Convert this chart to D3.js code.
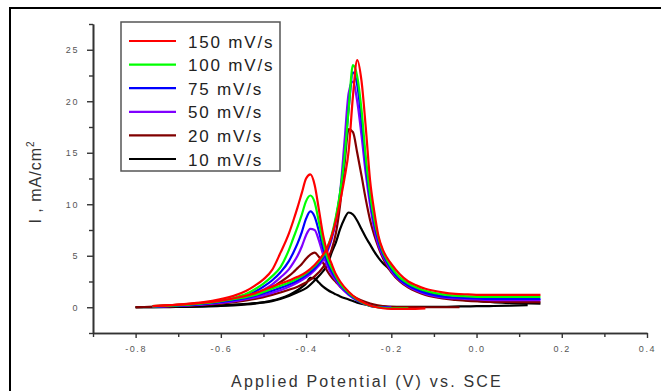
<!DOCTYPE html>
<html>
<head>
<meta charset="utf-8">
<script src="https://cdn.jsdelivr.net/npm/d3@7"></script>
<style>
  body { margin: 0; background: #fff; }
  text { font-family: "Liberation Sans", Arial, sans-serif; }
</style>
</head>
<body>
<div id="graph"></div>
<script>
// scan rate labels + colours (legend order)
var seriesNames = ["150 mV/s", "100 mV/s", "75 mV/s", "50 mV/s", "20 mV/s", "10 mV/s"];
var seriesColors = ["#ff0000", "#00ff00", "#0000ff", "#8000ff", "#800000", "#000000"];

// potential grid (V vs SCE) for the low branch (peak near -0.39 V)
var xLow = [-0.80, -0.76, -0.72, -0.68, -0.64, -0.60, -0.57, -0.54, -0.52, -0.50,
  -0.48, -0.46, -0.44, -0.43, -0.42, -0.41, -0.40, -0.39, -0.38, -0.37,
  -0.36, -0.35, -0.34, -0.33, -0.32, -0.30, -0.28, -0.26, -0.24, -0.22,
  -0.20, -0.16, -0.12, -0.08, -0.04, 0.00, 0.04, 0.08, 0.12];

// current density (mA/cm2), low branch
var low150 = [null, 0.1, 0.2, 0.32, 0.5, 0.8, 1.1, 1.6, 2.1, 2.7, 3.6, 5.3, 7.2, 8.4, 9.7, 11.1, 12.5, 12.9, 11.9, 9.5,
  7.0, 5.3, 4.2, 3.2, 2.5, 1.5, 0.8, 0.35, 0.05, -0.1, -0.15, -0.15, -0.1, null, null, null, null, null, null];
var low100 = [null, 0.08, 0.16, 0.26, 0.42, 0.65, 0.9, 1.3, 1.75, 2.3, 3.0, 3.9, 5.6, 6.7, 7.8, 9.0, 10.3, 10.85, 10.2, 8.3,
  6.3, 4.8, 3.8, 3.0, 2.3, 1.4, 0.75, 0.3, 0.05, -0.05, -0.1, -0.1, null, null, null, null, null, null, null];
var low75 = [null, 0.06, 0.12, 0.2, 0.34, 0.55, 0.78, 1.1, 1.5, 2.0, 2.6, 3.4, 4.5, 5.3, 6.2, 7.3, 8.6, 9.3, 8.8, 7.4,
  5.7, 4.4, 3.5, 2.8, 2.2, 1.3, 0.7, 0.3, 0.05, 0.0, -0.05, null, null, null, null, null, null, null, null];
var low50 = [null, 0.05, 0.1, 0.17, 0.28, 0.45, 0.65, 0.95, 1.25, 1.7, 2.2, 2.9, 3.7, 4.3, 5.0, 5.9, 7.0, 7.6, 7.5, 6.5,
  5.1, 4.0, 3.2, 2.6, 2.0, 1.2, 0.65, 0.28, 0.05, 0.0, 0.0, null, null, null, null, null, null, null, null];
var low20 = [0.0, 0.05, 0.1, 0.16, 0.25, 0.38, 0.55, 0.8, 1.05, 1.4, 1.9, 2.45, 3.05, 3.4, 3.8, 4.2, 4.7, 5.1, 5.3, 4.9,
  4.3, 3.5, 2.9, 2.45, 2.0, 1.35, 0.85, 0.5, 0.25, 0.12, 0.05, 0.02, 0.0, 0.0, 0.0, null, null, null, null];
var low10 = [0.0, 0.0, 0.02, 0.04, 0.07, 0.12, 0.18, 0.27, 0.36, 0.48, 0.65, 0.88, 1.2, 1.4, 1.65, 1.95, 2.3, 2.85, 2.8, 2.4,
  2.0, 1.7, 1.45, 1.25, 1.05, 0.75, 0.45, 0.25, 0.12, 0.08, 0.05, 0.05, 0.05, 0.05, 0.08, 0.1, 0.12, 0.15, 0.2];

// potential grid for the high branch (peak near -0.29 V)
var xHigh = [-0.80, -0.76, -0.72, -0.68, -0.64, -0.60, -0.56, -0.52, -0.48, -0.44,
  -0.42, -0.40, -0.38, -0.36, -0.35, -0.34, -0.33, -0.32, -0.31, -0.30,
  -0.29, -0.28, -0.27, -0.26, -0.25, -0.24, -0.23, -0.22, -0.21, -0.20,
  -0.18, -0.16, -0.14, -0.12, -0.10, -0.08, -0.05, -0.02, 0.02, 0.06, 0.10, 0.15];

var high150 = [null, 0.1, 0.2, 0.3, 0.45, 0.65, 0.95, 1.35, 2.0, 2.6, 2.95, 3.4, 4.1, 5.1, 5.8, 6.9, 8.4, 10.3, 12.5, 15.2,
  20.5, 24.0, 22.0, 17.5, 12.4, 9.3, 6.9, 5.6, 4.8, 4.2, 3.2, 2.5, 2.1, 1.8, 1.6, 1.45, 1.3, 1.25, 1.2, 1.2, 1.2, 1.2];
var high100 = [null, 0.1, 0.18, 0.28, 0.4, 0.6, 0.85, 1.2, 1.8, 2.4, 2.8, 3.3, 4.0, 5.0, 5.8, 7.0, 8.8, 11.2, 14.5, 19.3,
  23.5, 22.4, 19.2, 14.6, 11.0, 8.5, 6.7, 5.4, 4.6, 3.9, 2.9, 2.3, 1.9, 1.6, 1.4, 1.25, 1.12, 1.05, 1.0, 1.0, 1.0, 1.0];
var high75 = [null, 0.08, 0.15, 0.25, 0.36, 0.52, 0.75, 1.1, 1.6, 2.2, 2.6, 3.1, 3.8, 4.8, 5.6, 6.8, 8.6, 11.0, 14.5, 19.3,
  22.8, 21.6, 18.2, 14.0, 10.6, 8.1, 6.4, 5.2, 4.4, 3.7, 2.7, 2.1, 1.7, 1.4, 1.2, 1.05, 0.95, 0.88, 0.82, 0.8, 0.8, 0.8];
var high50 = [null, 0.06, 0.12, 0.2, 0.3, 0.45, 0.65, 0.95, 1.4, 2.0, 2.4, 2.9, 3.6, 4.6, 5.4, 6.6, 8.4, 11.2, 16.0, 20.8,
  21.9, 20.0, 16.7, 13.0, 10.0, 7.6, 6.0, 5.0, 4.2, 3.5, 2.6, 2.0, 1.6, 1.3, 1.1, 0.95, 0.85, 0.78, 0.72, 0.7, 0.7, 0.7];
var high20 = [0.0, 0.05, 0.1, 0.16, 0.25, 0.38, 0.55, 0.8, 1.2, 1.7, 2.0, 2.4, 3.0, 3.9, 4.6, 5.6, 7.2, 10.0, 13.8, 17.3,
  17.0, 15.0, 12.8, 10.5, 8.5, 7.0, 5.8, 4.8, 4.0, 3.4, 2.5, 1.9, 1.5, 1.2, 1.0, 0.85, 0.72, 0.62, 0.55, 0.52, 0.5, 0.5];
var high10 = [0.0, 0.02, 0.05, 0.08, 0.12, 0.18, 0.27, 0.4, 0.6, 1.1, 1.45, 1.85, 2.6, 3.5, 4.1, 5.3, 6.3, 7.6, 8.6, 9.2,
  9.0, 8.4, 7.6, 6.8, 6.1, 5.4, 4.8, 4.3, 3.9, 3.5, 2.8, 2.2, 1.8, 1.5, 1.25, 1.05, 0.85, 0.68, 0.55, 0.45, 0.4, 0.36];

var xMajor = [-0.8, -0.6, -0.4, -0.2, 0.0, 0.2, 0.4];
var xMinor = [-0.9, -0.7, -0.5, -0.3, -0.1, 0.1, 0.3];
var yMajor = [0, 5, 10, 15, 20, 25];
var yMinor = [-2.5, 2.5, 7.5, 12.5, 17.5, 22.5, 27.5];

var lows = [low150, low100, low75, low50, low20, low10];
var highs = [high150, high100, high75, high50, high20, high10];

var W = 661, H = 391;
var plot = { left: 93, right: 647, top: 24, bottom: 333 };

var xScale = d3.scaleLinear().domain([-0.9, 0.4]).range([plot.left, plot.right]);
var yScale = d3.scaleLinear().domain([-2.5, 27.5]).range([plot.bottom, plot.top]);

var svg = d3.select("#graph").append("svg")
  .attr("width", W)
  .attr("height", H);

// outer frame (runs off the right and bottom edges)
svg.append("rect")
  .attr("x", 10).attr("y", 8)
  .attr("width", 700).attr("height", 500)
  .attr("fill", "none")
  .attr("stroke", "#000")
  .attr("stroke-width", 2);

// axes
function styleAxis(g) {
  g.selectAll("path.domain").attr("stroke", "#333").attr("stroke-width", 1.6);
  g.selectAll(".tick line").attr("stroke", "#333").attr("stroke-width", 1.4);
  g.selectAll(".tick text")
    .attr("fill", "#555")
    .style("font-size", "9px")
    .style("letter-spacing", "1.6px");
}

svg.append("g")
  .attr("transform", "translate(0," + plot.bottom + ")")
  .call(d3.axisBottom(xScale).tickValues(xMinor).tickSize(4).tickSizeOuter(0).tickFormat(""))
  .call(styleAxis);
svg.append("g")
  .attr("transform", "translate(0," + plot.bottom + ")")
  .call(d3.axisBottom(xScale).tickValues(xMajor).tickSize(5).tickSizeOuter(0).tickPadding(8)
    .tickFormat(function (d) { return d.toFixed(1); }))
  .call(styleAxis);

svg.append("g")
  .attr("transform", "translate(" + plot.left + ",0)")
  .call(d3.axisLeft(yScale).tickValues(yMinor).tickSize(4).tickSizeOuter(0).tickFormat(""))
  .call(styleAxis);
svg.append("g")
  .attr("transform", "translate(" + plot.left + ",0)")
  .call(d3.axisLeft(yScale).tickValues(yMajor).tickSize(6).tickSizeOuter(0).tickPadding(8))
  .call(styleAxis);

// curves: draw 10 mV/s first so 150 mV/s ends on top
var line = d3.line()
  .defined(function (d) { return d[1] !== null; })
  .x(function (d) { return xScale(d[0]); })
  .y(function (d) { return yScale(d[1]); })
  .curve(d3.curveMonotoneX);

for (var i = seriesNames.length - 1; i >= 0; i--) {
  var lowPts = xLow.map(function (x, k) { return [x, lows[i][k]]; });
  var highPts = xHigh.map(function (x, k) { return [x, highs[i][k]]; });
  [lowPts, highPts].forEach(function (pts) {
    svg.append("path")
      .datum(pts)
      .attr("fill", "none")
      .attr("stroke", seriesColors[i])
      .attr("stroke-width", 2.2)
      .attr("stroke-linejoin", "round")
      .attr("d", line);
  });
}

// legend
var legend = svg.append("g");
legend.append("rect")
  .attr("x", 121).attr("y", 22)
  .attr("width", 159).attr("height", 149)
  .attr("fill", "#fff")
  .attr("stroke", "#555")
  .attr("stroke-width", 1.5);

seriesNames.forEach(function (name, i) {
  var ly = 41 + i * 23.6;
  legend.append("line")
    .attr("x1", 129).attr("x2", 176)
    .attr("y1", ly).attr("y2", ly)
    .attr("stroke", seriesColors[i])
    .attr("stroke-width", 2.2);
  legend.append("text")
    .attr("x", 188).attr("y", ly + 6.5)
    .attr("fill", "#222")
    .style("font-size", "17px")
    .style("letter-spacing", "1.8px")
    .text(name);
});

// axis titles
svg.append("text")
  .attr("x", 367).attr("y", 387)
  .attr("text-anchor", "middle")
  .attr("fill", "#333")
  .style("font-size", "16px")
  .style("letter-spacing", "2.2px")
  .text("Applied Potential (V) vs. SCE");

var yTitle = svg.append("text")
  .attr("transform", "translate(41,182) rotate(-90)")
  .attr("text-anchor", "middle")
  .attr("fill", "#333")
  .style("font-size", "16px")
  .style("letter-spacing", "1px");
yTitle.append("tspan").text("I , mA/cm");
yTitle.append("tspan")
  .attr("dy", -7)
  .style("font-size", "10px")
  .text("2");
</script>
</body>
</html>
